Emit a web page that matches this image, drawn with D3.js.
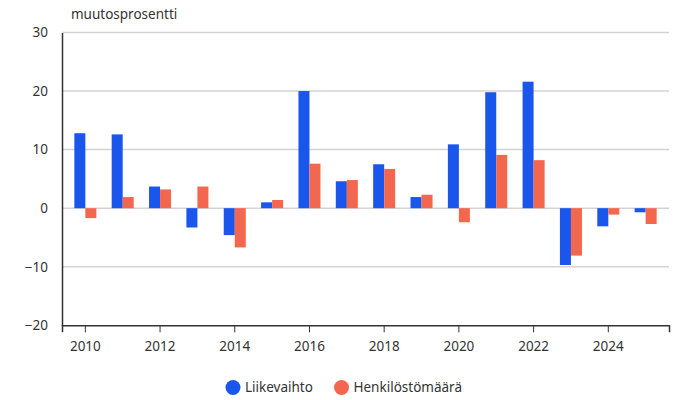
<html>
<head>
    <style>
        body { margin: 0; background: white; }
        text { font-family: "Noto Sans", "Open Sans", sans-serif; fill: #333; }
        .grid line { stroke: #d3d3d3; stroke-width: 1.5px; }
    </style>
</head>
<body>
    <script src="https://d3js.org/d3.v7.min.js"></script>
    <script>
        var years = ["2010", "2011", "2012", "2013", "2014", "2015", "2016", "2017", "2018", "2019", "2020", "2021", "2022", "2023", "2024", "2025"];
        var liikevaihto = [12.8, 12.6, 3.7, -3.3, -4.6, 1.0, 20.0, 4.6, 7.5, 1.9, 10.9, 19.8, 21.6, -9.7, -3.1, -0.7];
        var henkilosto = [-1.7, 1.9, 3.2, 3.7, -6.7, 1.4, 7.6, 4.8, 6.7, 2.3, -2.4, 9.1, 8.2, -8.1, -1.1, -2.7];
        var seriesNames = ["Liikevaihto", "Henkilöstömäärä"];
        var yTicks = [-20, -10, 0, 10, 20, 30];
        var xTickLabels = ["2010", "2012", "2014", "2016", "2018", "2020", "2022", "2024"];

        var width = 679, height = 400;
        var margin = { top: 32.5, right: 10, bottom: 75, left: 62 };

        var svg = d3.select("body").append("svg")
            .attr("width", width)
            .attr("height", height);

        var x = d3.scaleBand()
            .domain(years)
            .range([margin.left, 669])
            .paddingInner(0.41)
            .paddingOuter(0.33);

        var x1 = d3.scaleBand()
            .domain([0, 1])
            .range([0, x.bandwidth()]);

        var y = d3.scaleLinear()
            .domain([-20, 30])
            .range([325.3, margin.top]);

        var color = d3.scaleOrdinal().domain([0, 1]).range(["#1a56eb", "#f4674f"]);

        // gridlines
        svg.append("g")
            .attr("class", "grid")
            .selectAll("line")
            .data(yTicks.filter(function (d) { return d !== -20; }))
            .enter().append("line")
            .attr("x1", margin.left)
            .attr("x2", 669)
            .attr("y1", function (d) { return y(d); })
            .attr("y2", function (d) { return y(d); });

        // bars
        var rows = years.map(function (yr, i) { return { year: yr, vals: [liikevaihto[i], henkilosto[i]] }; });
        svg.append("g")
            .selectAll("g")
            .data(rows)
            .enter().append("g")
            .attr("transform", function (d) { return "translate(" + x(d.year) + ",0)"; })
            .selectAll("rect")
            .data(function (d) { return d.vals.map(function (v, k) { return { k: k, v: v }; }); })
            .enter().append("rect")
            .attr("x", function (d) { return x1(d.k); })
            .attr("width", x1.bandwidth())
            .attr("y", function (d) { return y(Math.max(0, d.v)); })
            .attr("height", function (d) { return Math.abs(y(d.v) - y(0)); })
            .attr("fill", function (d) { return color(d.k); });

        // y axis
        var yAxis = svg.append("g")
            .attr("transform", "translate(" + margin.left + ",0)")
            .call(d3.axisLeft(y).tickValues(yTicks).tickSize(0).tickPadding(14));
        yAxis.select(".domain").attr("stroke", "#333").attr("stroke-width", 1.5);
        yAxis.selectAll("text").style("font-size", "13.5px").attr("fill", "#333");

        // x axis
        var xAxis = svg.append("g")
            .attr("transform", "translate(0," + y(-20) + ")")
            .call(d3.axisBottom(x).tickValues(xTickLabels).tickSizeOuter(0).tickSize(7).tickPadding(9));
        xAxis.select(".domain").attr("stroke", "#333").attr("stroke-width", 1.5);
        xAxis.selectAll(".tick line").attr("stroke", "#333");
        xAxis.selectAll("text").style("font-size", "13.5px").attr("fill", "#333");

        // axis title
        svg.append("text")
            .attr("x", 71)
            .attr("y", 19)
            .style("font-size", "13.5px")
            .text("muutosprosentti");

        // legend
        var legendX = [233, 341.5];
        var legend = svg.append("g").selectAll("g")
            .data(seriesNames)
            .enter().append("g")
            .attr("transform", function (d, i) { return "translate(" + legendX[i] + ",387.5)"; });
        legend.append("circle")
            .attr("r", 7.5)
            .attr("fill", function (d, i) { return color(i); });
        legend.append("text")
            .attr("x", 12)
            .attr("dy", "0.35em")
            .style("font-size", "13.5px")
            .text(function (d) { return d; });
    </script>
</body>
</html>
